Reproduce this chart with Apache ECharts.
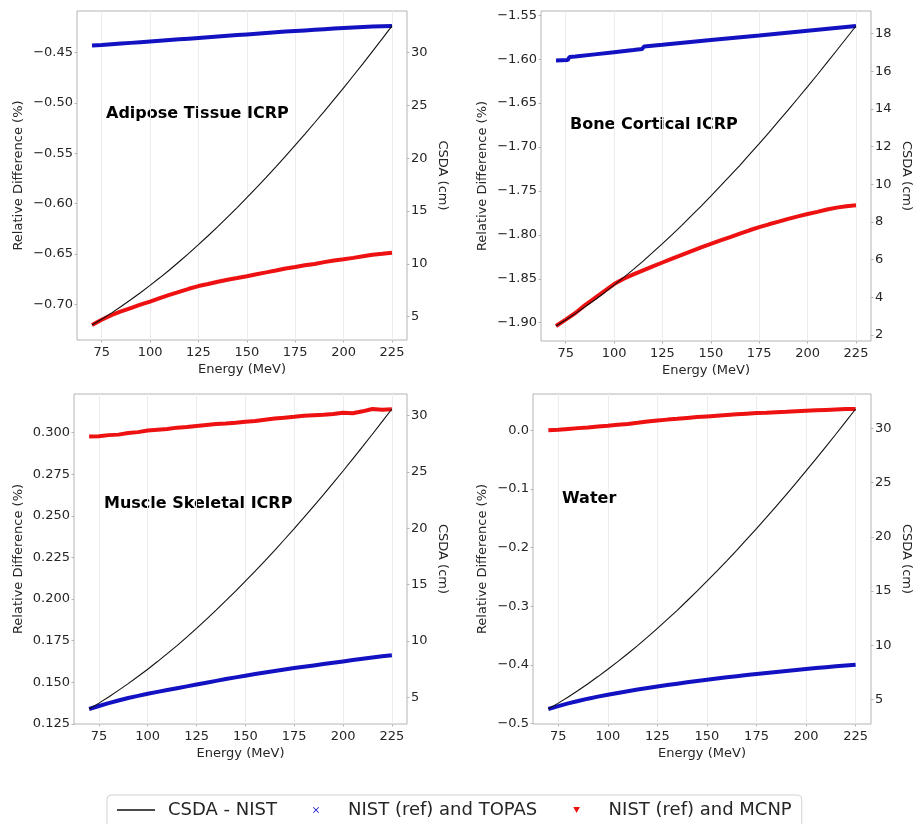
<!DOCTYPE html>
<html>
<head>
<meta charset="UTF-8">
<title>CSDA and relative difference</title>
<script src="https://cdn.jsdelivr.net/npm/echarts@6/dist/echarts.min.js"></script>
</head>
<body style="margin:0;background:#fff;">
<div id="main" style="width:917px;height:824px;"></div>
<script>
// energies (MeV) shared by most series
var energy = [70, 75, 80, 85, 90, 95, 100, 105, 110, 115, 120, 125, 130, 135, 140, 145,
              150, 155, 160, 165, 170, 175, 180, 185, 190, 195, 200, 205, 210, 215, 220, 225];

var panelNames = ['Adipose Tissue ICRP', 'Bone Cortical ICRP', 'Muscle Skeletal ICRP', 'Water'];
var seriesNames = ['CSDA - NIST', 'NIST (ref) and TOPAS', 'NIST (ref) and MCNP'];
var xTicks = [75, 100, 125, 150, 175, 200, 225];

// CSDA range (cm), right axis
var csdaAdipose = [4.21, 4.76, 5.34, 5.96, 6.60, 7.27, 7.96, 8.68, 9.42, 10.20, 10.99, 11.82, 12.66, 13.53, 14.42, 15.33,
                   16.26, 17.22, 18.19, 19.18, 20.20, 21.23, 22.28, 23.35, 24.43, 25.54, 26.66, 27.80, 28.95, 30.13, 31.31, 32.51];
var csdaBone = [2.47, 2.79, 3.13, 3.49, 3.85, 4.24, 4.64, 5.05, 5.48, 5.92, 6.38, 6.85, 7.33, 7.82, 8.33, 8.84,
                9.37, 9.91, 10.46, 11.01, 11.59, 12.16, 12.75, 13.35, 13.95, 14.57, 15.19, 15.82, 16.46, 17.11, 17.76, 18.41];
var csdaMuscle = [3.96, 4.48, 5.02, 5.61, 6.21, 6.84, 7.49, 8.17, 8.87, 9.59, 10.34, 11.12, 11.91, 12.73, 13.57, 14.42,
                  15.30, 16.20, 17.11, 18.04, 19.00, 19.97, 20.96, 21.97, 22.99, 24.03, 25.08, 26.15, 27.24, 28.34, 29.46, 30.58];
var csdaWater = [4.12, 4.66, 5.22, 5.83, 6.45, 7.11, 7.78, 8.49, 9.21, 9.97, 10.75, 11.55, 12.38, 13.22, 14.10, 14.99,
                 15.90, 16.83, 17.78, 18.75, 19.75, 20.75, 21.78, 22.83, 23.89, 24.97, 26.07, 27.18, 28.31, 29.45, 30.61, 31.78];

// relative difference (%) NIST vs TOPAS
var topasAdipose = [-0.4430, -0.4424, -0.4417, -0.4410, -0.4403, -0.4396, -0.4389, -0.4382, -0.4375, -0.4368, -0.4361, -0.4354,
                    -0.4347, -0.4340, -0.4333, -0.4326, -0.4319, -0.4312, -0.4305, -0.4298, -0.4291, -0.4285, -0.4279, -0.4273,
                    -0.4267, -0.4261, -0.4255, -0.4250, -0.4245, -0.4240, -0.4237, -0.4235];
var topasBoneEnergy = [70, 76, 77, 80, 90, 100, 110, 114.5, 115.5, 125, 150, 175, 200, 225];
var topasBone = [-1.6015, -1.6010, -1.5975, -1.5970, -1.5945, -1.5920, -1.5895, -1.5883, -1.5856, -1.5836, -1.5782, -1.5729, -1.5675, -1.5622];
var topasMuscle = [0.1339, 0.1357, 0.1374, 0.1390, 0.1405, 0.1418, 0.1431, 0.1442, 0.1453, 0.1464, 0.1475, 0.1486,
                   0.1497, 0.1508, 0.1519, 0.1529, 0.1539, 0.1549, 0.1558, 0.1567, 0.1576, 0.1585, 0.1593, 0.1601,
                   0.1609, 0.1617, 0.1625, 0.1633, 0.1641, 0.1649, 0.1656, 0.1662];
var topasWater = [-0.4750, -0.4700, -0.4655, -0.4613, -0.4574, -0.4539, -0.4506, -0.4476, -0.4447, -0.4418, -0.4391, -0.4365,
                  -0.4341, -0.4318, -0.4295, -0.4272, -0.4250, -0.4229, -0.4209, -0.4190, -0.4171, -0.4153, -0.4135, -0.4118,
                  -0.4101, -0.4084, -0.4068, -0.4053, -0.4038, -0.4023, -0.4008, -0.3994];

// relative difference (%) NIST vs MCNP
var mcnpAdipose = [-0.7205, -0.7152, -0.7106, -0.7070, -0.7036, -0.7003, -0.6972, -0.6938, -0.6905, -0.6875, -0.6845, -0.6818,
                   -0.6798, -0.6775, -0.6755, -0.6738, -0.6720, -0.6700, -0.6682, -0.6663, -0.6643, -0.6628, -0.6612, -0.6598,
                   -0.6580, -0.6565, -0.6552, -0.6538, -0.6522, -0.6506, -0.6497, -0.6486];
var mcnpBone = [-1.9038, -1.8965, -1.8890, -1.8800, -1.8720, -1.8640, -1.8560, -1.8500, -1.8450, -1.8405, -1.8360, -1.8315,
                -1.8270, -1.8228, -1.8185, -1.8143, -1.8103, -1.8062, -1.8025, -1.7985, -1.7948, -1.7912, -1.7880, -1.7850,
                -1.7818, -1.7790, -1.7762, -1.7738, -1.7712, -1.7690, -1.7675, -1.7664];
var mcnpMuscle = [0.2976, 0.2978, 0.2985, 0.2988, 0.2998, 0.3003, 0.3013, 0.3018, 0.3022, 0.3030, 0.3034, 0.3040,
                  0.3046, 0.3052, 0.3055, 0.3060, 0.3066, 0.3070, 0.3078, 0.3085, 0.3090, 0.3095, 0.3101, 0.3104,
                  0.3107, 0.3112, 0.3120, 0.3116, 0.3128, 0.3142, 0.3137, 0.3140];
var mcnpWater = [0.0000, 0.0012, 0.0025, 0.0038, 0.0050, 0.0066, 0.0080, 0.0096, 0.0110, 0.0130, 0.0152, 0.0168,
                 0.0183, 0.0197, 0.0212, 0.0226, 0.0238, 0.0250, 0.0262, 0.0274, 0.0285, 0.0296, 0.0302, 0.0310,
                 0.0318, 0.0327, 0.0335, 0.0342, 0.0349, 0.0356, 0.0362, 0.0364];

// tick labels
var leftTicks = [
    [-0.70, -0.65, -0.60, -0.55, -0.50, -0.45],
    [-1.90, -1.85, -1.80, -1.75, -1.70, -1.65, -1.60, -1.55],
    [0.125, 0.150, 0.175, 0.200, 0.225, 0.250, 0.275, 0.300],
    [-0.5, -0.4, -0.3, -0.2, -0.1, 0.0]
];
var leftDecimals = [2, 2, 3, 1];
var rightTicks = [
    [5, 10, 15, 20, 25, 30],
    [2, 4, 6, 8, 10, 12, 14, 16, 18],
    [5, 10, 15, 20, 25, 30],
    [5, 10, 15, 20, 25, 30]
];

var csdaAll = [csdaAdipose, csdaBone, csdaMuscle, csdaWater];
var topasAll = [topasAdipose, topasBone, topasMuscle, topasWater];
var topasEnergyAll = [energy, topasBoneEnergy, energy, energy];
var mcnpAll = [mcnpAdipose, mcnpBone, mcnpMuscle, mcnpWater];

// layout (pixels)
var grids = [
    {left: 77, top: 11, width: 330, height: 329},
    {left: 541, top: 11, width: 330, height: 330},
    {left: 74, top: 394, width: 333, height: 330},
    {left: 533, top: 394, width: 338, height: 330}
];
var leftNameGap = [52, 52, 49, 44];
var labelPos = [[106, 106], [570, 117], [104, 496], [562, 491]];

var FONT = 'DejaVu Sans';
var TXT = '#262626';
var SPINE = '#b4b4b4';

function pairs(xs, ys) {
    return xs.map(function (x, i) { return [x, ys[i]]; });
}
// matplotlib-like 5% margins around the data
function padExtent(arrs) {
    var all = [].concat.apply([], arrs);
    var mn = Math.min.apply(null, all), mx = Math.max.apply(null, all);
    var pad = (mx - mn) * 0.05;
    return [mn - pad, mx + pad];
}
function fmt(d) {
    return function (v) { return v.toFixed(d).replace('-', '\u2212'); };
}

var xAxes = [], yAxes = [], series = [], graphics = [];
for (var i = 0; i < 4; i++) {
    grids[i].show = true;
    grids[i].borderColor = SPINE;
    grids[i].borderWidth = 1;
    grids[i].containLabel = false;

    xAxes.push({
        type: 'value', gridIndex: i, min: 62.25, max: 232.75,
        name: 'Energy (MeV)', nameLocation: 'middle', nameGap: 23,
        nameTextStyle: {fontFamily: FONT, fontSize: 13, color: TXT},
        axisLine: {show: false, onZero: false},
        axisTick: {show: true, length: 2.5, lineStyle: {color: SPINE}, customValues: xTicks},
        axisLabel: {fontFamily: FONT, fontSize: 13, color: TXT, margin: 6, customValues: xTicks},
        splitLine: {show: true, lineStyle: {color: '#ececec', width: 1}}
    });

    var le = padExtent([topasAll[i], mcnpAll[i]]);
    yAxes.push({
        type: 'value', gridIndex: i, position: 'left', min: le[0], max: le[1],
        name: 'Relative Difference (%)', nameLocation: 'middle', nameGap: leftNameGap[i], nameRotate: 90,
        nameTextStyle: {fontFamily: FONT, fontSize: 13, color: TXT},
        axisLine: {show: false, onZero: false},
        axisTick: {show: true, length: 2.5, lineStyle: {color: SPINE}, customValues: leftTicks[i]},
        axisLabel: {fontFamily: FONT, fontSize: 13, color: TXT, margin: 4,
                    customValues: leftTicks[i], formatter: fmt(leftDecimals[i])},
        splitLine: {show: false}
    });
    var re = padExtent([csdaAll[i]]);
    yAxes.push({
        type: 'value', gridIndex: i, position: 'right', min: re[0], max: re[1],
        name: 'CSDA (cm)', nameLocation: 'middle', nameGap: 29, nameRotate: -90,
        nameTextStyle: {fontFamily: FONT, fontSize: 13, color: TXT},
        axisLine: {show: false, onZero: false},
        axisTick: {show: true, length: 2.5, lineStyle: {color: SPINE}, customValues: rightTicks[i]},
        axisLabel: {fontFamily: FONT, fontSize: 13, color: TXT, margin: 4, customValues: rightTicks[i]},
        splitLine: {show: false}
    });

    series.push({
        name: seriesNames[0], type: 'line', xAxisIndex: i, yAxisIndex: 2 * i + 1,
        data: pairs(energy, csdaAll[i]), showSymbol: false, symbol: 'none', z: 4,
        lineStyle: {color: '#111', width: 1.1}, itemStyle: {color: '#111'}
    });
    series.push({
        name: seriesNames[1], type: 'line', xAxisIndex: i, yAxisIndex: 2 * i,
        data: pairs(topasEnergyAll[i], topasAll[i]), showSymbol: false, symbol: 'none', z: 3,
        lineStyle: {color: '#1212c2', width: 4}, itemStyle: {color: '#1212c2'}
    });
    series.push({
        name: seriesNames[2], type: 'line', xAxisIndex: i, yAxisIndex: 2 * i,
        data: pairs(energy, mcnpAll[i]), showSymbol: false, symbol: 'none', z: 3,
        lineStyle: {color: '#ee1111', width: 4}, itemStyle: {color: '#ee1111'}
    });

    graphics.push({
        type: 'text', left: labelPos[i][0], top: labelPos[i][1],
        style: {text: panelNames[i], fontFamily: FONT, fontSize: 16, fontWeight: 'bold', fill: '#000'}
    });
}

var myChart = echarts.init(document.getElementById('main'));
var option = {
    animation: false,
    backgroundColor: '#fff',
    grid: grids,
    xAxis: xAxes,
    yAxis: yAxes,
    series: series,
    graphic: graphics,
    legend: {
        left: 107, top: 795,
        padding: [6, 10, 12, 10],
        borderColor: '#d2d2d2', borderWidth: 1, borderRadius: 4,
        itemWidth: 38, itemHeight: 6, itemGap: 36,
        textStyle: {fontFamily: FONT, fontSize: 18, color: TXT, padding: [0, 0, 0, 8]},
        data: [
            {name: seriesNames[0], icon: 'path://M0,0H40V1.6H0Z', itemStyle: {borderWidth: 0}},
            {name: seriesNames[1], icon: 'path://M1,0L5,4L9,0L10,1L6,5L10,9L9,10L5,6L1,10L0,9L4,5L0,1Z', itemStyle: {borderWidth: 0}},
            {name: seriesNames[2], icon: 'path://M0,0H10L5,9Z', itemStyle: {borderWidth: 0}}
        ]
    }
};
myChart.setOption(option);
</script>
</body>
</html>
